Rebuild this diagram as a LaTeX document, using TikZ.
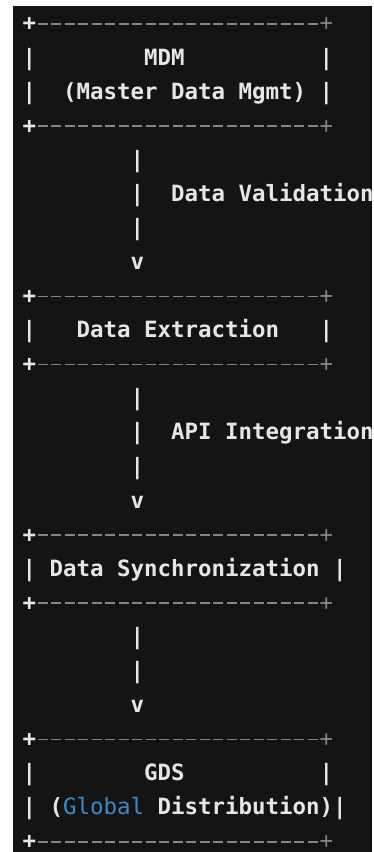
\documentclass[tikz,border=0pt]{standalone}
\usepackage{fontspec}
\newfontfamily\dvm{DejaVu Sans Mono}
\definecolor{bgdark}{HTML}{141414}
\definecolor{txtw}{HTML}{E6E6E6}
\definecolor{dashg}{HTML}{858585}
\definecolor{globblue}{HTML}{3B8CCB}
\tikzset{
  txt/.style={anchor=base west, inner sep=0pt, outer sep=0pt, text=txtw,
    font=\dvm\bfseries\fontsize{22.43}{26}\selectfont},
  plusl/.style={txt, text depth=0pt},
  plusr/.style={txt, text depth=0pt, text=dashg, font=\dvm\fontsize{22.43}{26}\selectfont},
  dashrule/.style={draw=dashg, line width=1.7pt,
    dash pattern=on 10pt off 3.5pt, dash phase=11.75pt},
}
% column k left edge and row k baseline (pt)
\newcommand\cx[1]{22.55+13.5*#1}
\newcommand\ry[1]{821-34.08*#1}
\newcommand\Rule[2]{%
  \node[plusl] (#1l) at ({\cx{0}},{\ry{#2}}) {+};
  \node[plusr] (#1r) at ({\cx{22}},{\ry{#2}}) {+};
  \draw[dashrule] ([yshift=7.2pt]#1l.base east) -- ([yshift=7.2pt]#1r.base west);}
\begin{document}
\begin{tikzpicture}[x=1pt,y=1pt]
\useasboundingbox (0,0) rectangle (374,852);
\fill[white] (0,0) rectangle (374,852);
\fill[bgdark] (13,0) rectangle (372,846);

% MDM box
\Rule{mdmtop}{0}
\node[txt] (mdml1) at ({\cx{0}},{\ry{1}}) {|};
\node[txt] (mdm) at ({\cx{9}},{\ry{1}}) {MDM};
\node[txt] (mdmr1) at ({\cx{22}},{\ry{1}}) {|};
\node[txt] (mdml2) at ({\cx{0}},{\ry{2}}) {|};
\node[txt] (mdmsub) at ({\cx{3}},{\ry{2}}) {(Master Data Mgmt)};
\node[txt] (mdmr2) at ({\cx{22}},{\ry{2}}) {|};
\Rule{mdmbot}{3}

% arrow 1
\node[txt] (a1a) at ({\cx{8}},{\ry{4}}) {|};
\node[txt] (a1b) at ({\cx{8}},{\ry{5}}) {|};
\node[txt] (a1lab) at ({\cx{11}},{\ry{5}}) {Data Validation};
\node[txt] (a1c) at ({\cx{8}},{\ry{6}}) {|};
\node[txt] (a1v) at ({\cx{8}},{\ry{7}}) {v};

% Data Extraction box
\Rule{dxtop}{8}
\node[txt] (dxl) at ({\cx{0}},{\ry{9}}) {|};
\node[txt] (dx) at ({\cx{4}},{\ry{9}}) {Data Extraction};
\node[txt] (dxr) at ({\cx{22}},{\ry{9}}) {|};
\Rule{dxbot}{10}

% arrow 2
\node[txt] (a2a) at ({\cx{8}},{\ry{11}}) {|};
\node[txt] (a2b) at ({\cx{8}},{\ry{12}}) {|};
\node[txt] (a2lab) at ({\cx{11}},{\ry{12}}) {API Integration};
\node[txt] (a2c) at ({\cx{8}},{\ry{13}}) {|};
\node[txt] (a2v) at ({\cx{8}},{\ry{14}}) {v};

% Data Synchronization box
\Rule{dstop}{15}
\node[txt] (dsl) at ({\cx{0}},{\ry{16}}) {|};
\node[txt] (ds) at ({\cx{2}},{\ry{16}}) {Data Synchronization};
\node[txt] (dsr) at ({\cx{23}},{\ry{16}}) {|};
\Rule{dsbot}{17}

% arrow 3
\node[txt] (a3a) at ({\cx{8}},{\ry{18}}) {|};
\node[txt] (a3b) at ({\cx{8}},{\ry{19}}) {|};
\node[txt] (a3v) at ({\cx{8}},{\ry{20}}) {v};

% GDS box
\Rule{gdstop}{21}
\node[txt] (gdsl1) at ({\cx{0}},{\ry{22}}) {|};
\node[txt] (gds) at ({\cx{9}},{\ry{22}}) {GDS};
\node[txt] (gdsr1) at ({\cx{22}},{\ry{22}}) {|};
\node[txt] (gdsl2) at ({\cx{0}},{\ry{23}}) {|};
\node[txt] (gdssub) at ({\cx{2}},{\ry{23}}) {(\textcolor{globblue}{\mdseries Global} Distribution)};
\node[txt] (gdsr2) at ({\cx{23}},{\ry{23}}) {|};
\Rule{gdsbot}{24}
\end{tikzpicture}
\end{document}
